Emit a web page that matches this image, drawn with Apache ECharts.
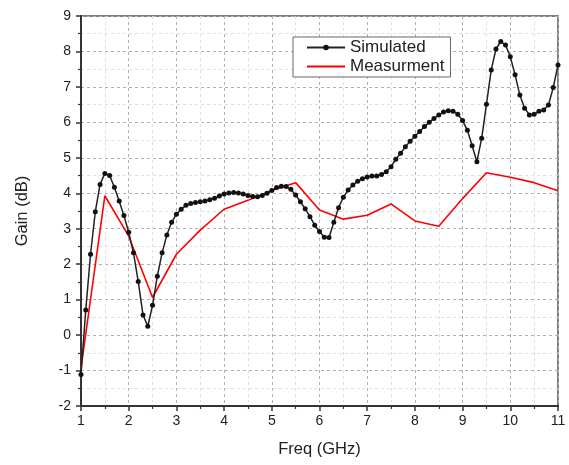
<!DOCTYPE html>
<html>
<head>
<meta charset="utf-8">
<script src="https://cdn.jsdelivr.net/npm/echarts@6/dist/echarts.min.js"></script>
<style>
  html, body { margin: 0; padding: 0; background: #fff; }
  #chart { width: 569px; height: 465px; }
</style>
</head>
<body>
<div id="chart"></div>
<script>
'use strict';

// ── Data ──────────────────────────────────────────────────────────────────────
const simFreq = [
  1.0, 1.1, 1.2, 1.3, 1.4, 1.5, 1.6, 1.7, 1.8, 1.9,
  2.0, 2.1, 2.2, 2.3, 2.4, 2.5, 2.6, 2.7, 2.8, 2.9,
  3.0, 3.1, 3.2, 3.3, 3.4, 3.5, 3.6, 3.7, 3.8, 3.9,
  4.0, 4.1, 4.2, 4.3, 4.4, 4.5, 4.6, 4.7, 4.8, 4.9,
  5.0, 5.1, 5.2, 5.3, 5.4, 5.5, 5.6, 5.7, 5.8, 5.9,
  6.0, 6.1, 6.2, 6.3, 6.4, 6.5, 6.6, 6.7, 6.8, 6.9,
  7.0, 7.1, 7.2, 7.3, 7.4, 7.5, 7.6, 7.7, 7.8, 7.9,
  8.0, 8.1, 8.2, 8.3, 8.4, 8.5, 8.6, 8.7, 8.8, 8.9,
  9.0, 9.1, 9.2, 9.3, 9.4, 9.5, 9.6, 9.7, 9.8, 9.9,
  10.0, 10.1, 10.2, 10.3, 10.4, 10.5, 10.6, 10.7, 10.8, 10.9,
  11.0
];
const simGain = [
  -1.11, 0.71, 2.28, 3.48, 4.25, 4.56, 4.50, 4.17, 3.78, 3.37,
  2.90, 2.32, 1.51, 0.57, 0.25, 0.84, 1.66, 2.32, 2.82, 3.18,
  3.41, 3.55, 3.66, 3.71, 3.74, 3.76, 3.78, 3.82, 3.86, 3.92,
  3.98, 4.01, 4.02, 4.01, 3.98, 3.94, 3.91, 3.90, 3.94, 4.00,
  4.08, 4.16, 4.20, 4.19, 4.11, 3.95, 3.76, 3.56, 3.34, 3.10,
  2.92, 2.76, 2.75, 3.18, 3.59, 3.89, 4.09, 4.23, 4.34, 4.41,
  4.46, 4.49, 4.49, 4.53, 4.61, 4.75, 4.96, 5.13, 5.31, 5.47,
  5.61, 5.74, 5.88, 6.00, 6.11, 6.21, 6.29, 6.33, 6.31, 6.23,
  6.05, 5.78, 5.34, 4.89, 5.55, 6.51, 7.48, 8.07, 8.28, 8.18,
  7.85, 7.34, 6.77, 6.40, 6.21, 6.23, 6.31, 6.35, 6.49, 6.98,
  7.62
];

const measFreq = [1, 1.5, 2, 2.5, 3, 3.5, 4, 4.5, 5, 5.5, 6, 6.5, 7, 7.5, 8, 8.5, 9, 9.5, 10, 10.5, 11];
const measGain = [-0.94, 3.93, 2.79, 1.06, 2.28, 2.96, 3.55, 3.80, 4.08, 4.30, 3.53, 3.27, 3.38, 3.70, 3.22, 3.07, 3.85, 4.58, 4.45, 4.30, 4.07];

const pairs = (xs, ys) => xs.map((x, i) => [x, ys[i]]);

// ── Chart ─────────────────────────────────────────────────────────────────────
const chart = echarts.init(document.getElementById('chart'), null, { renderer: 'canvas' });

const FONT = 'Liberation Sans, Arial, sans-serif';

const axisCommon = {
  type: 'value',
  interval: 1,
  minorTick:      { show: true, splitNumber: 2, length: 3, lineStyle: { color: '#333', width: 1.2 } },
  axisTick:       { show: true, inside: false, length: 5, lineStyle: { color: '#333', width: 1.5 } },
  axisLine:       { show: true, onZero: false, lineStyle: { color: '#333', width: 2 } },
  splitLine:      { show: true, lineStyle: { color: '#b0b0b0', type: [3, 3], width: 1 } },
  minorSplitLine: { show: true, lineStyle: { color: '#dedede', type: [3, 3], width: 1 } },
  axisLabel:      { color: '#222', fontSize: 14, fontFamily: FONT },
  nameLocation: 'middle',
  nameTextStyle: { color: '#222', fontSize: 16.5, fontFamily: FONT },
};

const option = {
  backgroundColor: '#fff',
  animation: false,
  grid: {
    left: 81, right: 11, top: 16, bottom: 59,
    show: true, borderColor: '#555', borderWidth: 1.5,
  },
  legend: {
    left: 293, top: 37,
    orient: 'vertical',
    backgroundColor: '#fff',
    borderColor: '#666', borderWidth: 1,
    padding: [2, 6, 2, 13],
    itemWidth: 38, itemHeight: 7, itemGap: 2,
    textStyle: { color: '#222', fontSize: 17, fontFamily: FONT, padding: [0, 0, 0, 0] },
    data: [
      { name: 'Simulated' },
      { name: 'Measurment', itemStyle: { color: 'rgba(0,0,0,0)', borderWidth: 0 } },
    ],
  },
  xAxis: Object.assign({}, axisCommon, {
    min: 1, max: 11,
    name: 'Freq (GHz)', nameGap: 35,
  }),
  yAxis: Object.assign({}, axisCommon, {
    min: -2, max: 9,
    name: 'Gain (dB)', nameGap: 50,
    axisLabel: Object.assign({}, axisCommon.axisLabel, { margin: 10 }),
  }),
  series: [
    {
      name: 'Simulated',
      type: 'line',
      data: pairs(simFreq, simGain),
      symbol: 'circle', symbolSize: 5,
      itemStyle: { color: '#111' },
      lineStyle: { color: '#222', width: 1.5 },
      z: 3,
    },
    {
      name: 'Measurment',
      type: 'line',
      data: pairs(measFreq, measGain),
      showSymbol: false, symbol: 'none',
      itemStyle: { color: '#ff0000' },
      lineStyle: { color: '#ff0000', width: 1.6 },
      z: 2,
    },
  ],
};

chart.setOption(option);
</script>
</body>
</html>
